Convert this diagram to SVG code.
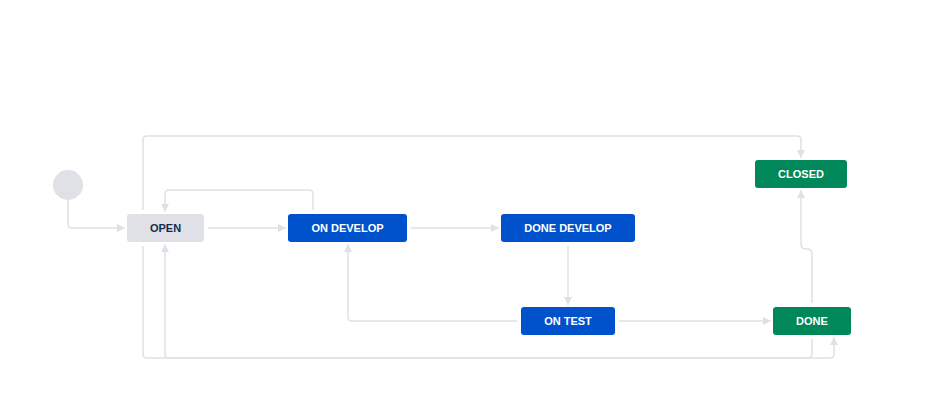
<svg xmlns="http://www.w3.org/2000/svg" width="936" height="412" viewBox="0 0 936 412">
<defs>
<style>
.c{fill:none;stroke:#dfe1e6;stroke-width:1.5}
.t{font-family:"Liberation Sans",Arial,sans-serif;font-size:11px;font-weight:bold;text-anchor:middle}
.w{fill:#ffffff}
.d{fill:#172b4d}
.blue{fill:#0052cc}
.green{fill:#00875a}
.gray{fill:#dfe1e6}
</style>
<marker id="a" markerUnits="userSpaceOnUse" markerWidth="8" markerHeight="8" refX="8" refY="4" orient="auto">
<path d="M0,0 L8,4 L0,8 z" fill="#dfe1e6"/>
</marker>
</defs>
<rect width="936" height="412" fill="#ffffff"/>
<g id="connectors">
<path class="c" d="M68,200 V224 Q68,228 72,228 H125" marker-end="url(#a)"/>
<path class="c" d="M208,228 H286" marker-end="url(#a)"/>
<path class="c" d="M313,210 V194 Q313,190 309,190 H169 Q165,190 165,194 V212" marker-end="url(#a)"/>
<path class="c" d="M411,228 H499" marker-end="url(#a)"/>
<path class="c" d="M568,246 V305" marker-end="url(#a)"/>
<path class="c" d="M517,321 H352 Q348,321 348,317 V244" marker-end="url(#a)"/>
<path class="c" d="M619,321 H771" marker-end="url(#a)"/>
<path class="c" d="M812,303 V254 Q812,249 807,249 H806 Q801,249 801,244 V190" marker-end="url(#a)"/>
<path class="c" d="M143,210 V140 Q143,136 147,136 H797 Q801,136 801,140 V158" marker-end="url(#a)"/>
<path class="c" d="M143,246 V354 Q143,358 147,358 H830 Q834,358 834,354 V337" marker-end="url(#a)"/>
<path class="c" d="M812,339 V354 Q812,358 808,358 H169 Q165,358 165,354 V244" marker-end="url(#a)"/>
</g>
<g id="start"><circle cx="68" cy="185" r="15" class="gray"/></g>
<g id="open"><rect x="127" y="214" width="77" height="28" rx="3" class="gray"/><text x="165.5" y="232" class="t d">OPEN</text></g>
<g id="on-develop"><rect x="288" y="214" width="119" height="28" rx="3" class="blue"/><text x="347.5" y="232" class="t w">ON DEVELOP</text></g>
<g id="done-develop"><rect x="501" y="214" width="134" height="28" rx="3" class="blue"/><text x="568" y="232" class="t w">DONE DEVELOP</text></g>
<g id="on-test"><rect x="521" y="307" width="94" height="28" rx="3" class="blue"/><text x="568" y="325" class="t w">ON TEST</text></g>
<g id="done"><rect x="773" y="307" width="78" height="28" rx="3" class="green"/><text x="812" y="325" class="t w">DONE</text></g>
<g id="closed"><rect x="755" y="160" width="92" height="28" rx="3" class="green"/><text x="801" y="178" class="t w">CLOSED</text></g>
</svg>
